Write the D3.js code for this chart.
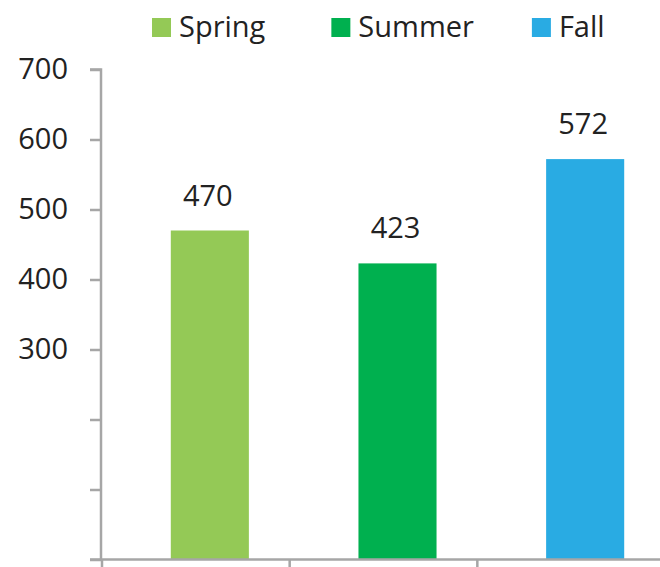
<!DOCTYPE html>
<html>
<head>
<meta charset="utf-8">
<script src="https://cdn.jsdelivr.net/npm/d3@7"></script>
<style>
  body { margin: 0; background: #fff; }
  svg { display: block; font-family: "Open Sans", sans-serif; }
</style>
</head>
<body>
<div id="chart"></div>
<script>
// data
const seasons = ["Spring", "Summer", "Fall"];
const counts = [470, 423, 572];
const colors = ["#94c956", "#00b04f", "#29abe3"];
const yTicks = [0, 100, 200, 300, 400, 500, 600, 700];
const yLabelled = [300, 400, 500, 600, 700];

function draw() {
  const width = 660, height = 567;
  const axisColor = "#a6a6a6";
  const textColor = "#222";

  const svg = d3.select("#chart").append("svg")
    .attr("width", width)
    .attr("height", height);

  const y = d3.scaleLinear().domain([0, 700]).range([559.5, 69.5]);

  // category slots for the axis ticks
  const xAxisScale = d3.scaleBand().domain(seasons).range([101, 664]);
  // bars sit a bit right of the middle of each slot
  const x = d3.scaleBand().domain(seasons).range([116, 679])
    .paddingInner(0.584).paddingOuter(0.292);

  // bars
  svg.append("g").selectAll("rect")
    .data(seasons)
    .join("rect")
      .attr("x", d => x(d))
      .attr("width", x.bandwidth())
      .attr("y", (d, i) => y(counts[i]))
      .attr("height", (d, i) => y(0) - y(counts[i]))
      .attr("fill", (d, i) => colors[i]);

  // value labels
  svg.append("g").selectAll("text")
    .data(seasons)
    .join("text")
      .attr("x", d => x(d) + x.bandwidth() / 2 - 2)
      .attr("y", (d, i) => y(counts[i]) - 25)
      .attr("text-anchor", "middle")
      .attr("font-size", 29)
      .attr("fill", textColor)
      .text((d, i) => counts[i]);

  // y axis
  const yAxis = svg.append("g").attr("transform", "translate(101,0)")
    .call(d3.axisLeft(y).tickValues(yTicks).tickSize(11)
      .tickFormat(d => yLabelled.includes(d) ? d : ""));
  yAxis.select(".domain").attr("stroke", axisColor).attr("stroke-width", 2.5)
    .attr("d", `M-11,${y(700)}H0V${y(0)}`);
  yAxis.selectAll(".tick line").attr("stroke", axisColor).attr("stroke-width", 2.5);
  yAxis.selectAll(".tick text")
    .attr("x", -33)
    .attr("font-size", 29)
    .attr("font-family", "'Open Sans', sans-serif")
    .attr("fill", textColor);

  // x axis: line with ticks at slot edges
  const xAxis = svg.append("g").attr("transform", `translate(0,${y(0)})`);
  xAxis.append("line")
    .attr("x1", 90).attr("x2", width)
    .attr("stroke", axisColor).attr("stroke-width", 2.5);
  xAxis.selectAll(".xtick")
    .data(seasons)
    .join("line")
      .attr("class", "xtick")
      .attr("x1", d => xAxisScale(d) + 1).attr("x2", d => xAxisScale(d) + 1)
      .attr("y1", 0).attr("y2", 12)
      .attr("stroke", axisColor).attr("stroke-width", 2.5);

  // legend
  const legend = svg.append("g").attr("transform", "translate(152,18)");
  let lx = 0;
  seasons.forEach((s, i) => {
    const g = legend.append("g").attr("transform", `translate(${lx},0)`);
    g.append("rect").attr("width", 19).attr("height", 19).attr("fill", colors[i]);
    const t = g.append("text")
      .attr("x", 27).attr("y", 19)
      .attr("font-size", 29)
      .attr("fill", textColor)
      .text(s);
    lx += 27 + t.node().getComputedTextLength() + (i === 0 ? 66 : 58);
  });
}
draw();
</script>
</body>
</html>
